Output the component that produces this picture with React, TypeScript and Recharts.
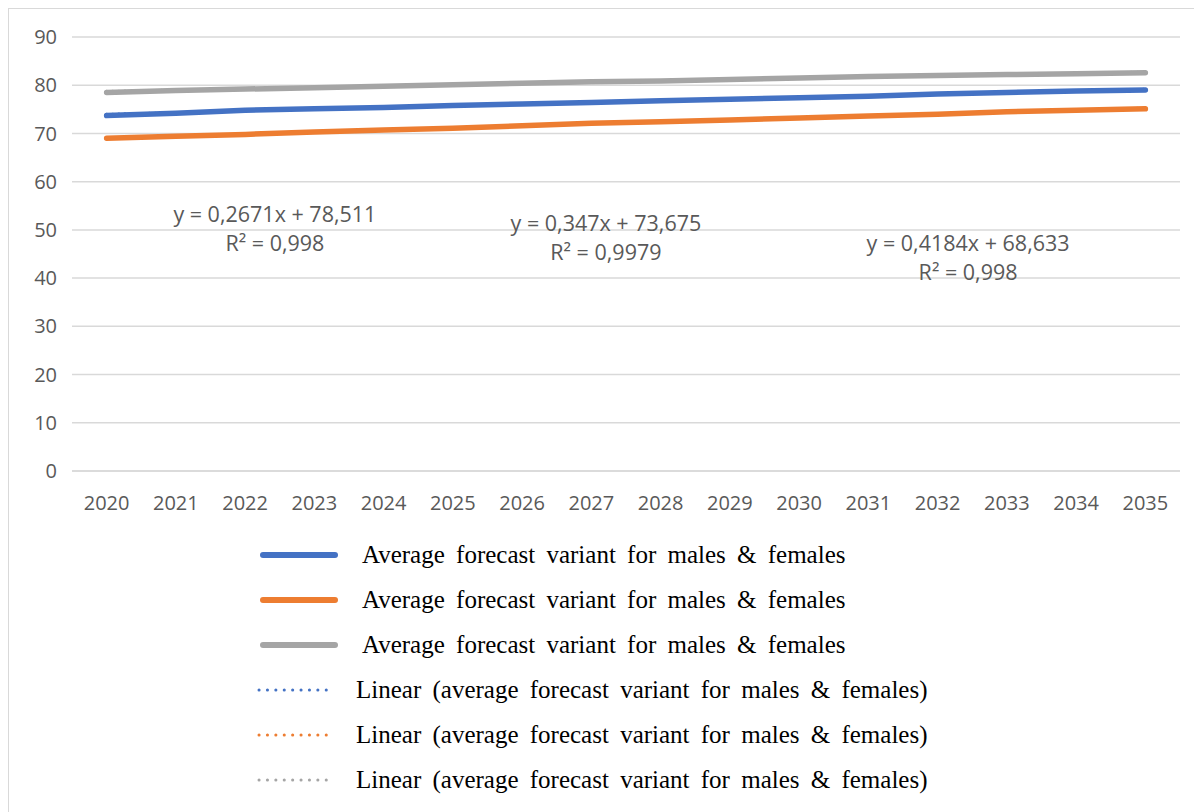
import React from 'react'
import { LineChart, Line, XAxis, YAxis, CartesianGrid, ReferenceLine, ReferenceDot } from 'recharts'

// years on the x axis
const years = [2020, 2021, 2022, 2023, 2024, 2025, 2026, 2027, 2028, 2029, 2030, 2031, 2032, 2033, 2034, 2035]

// values
const blueValues = [73.7, 74.2, 74.8, 75.1, 75.4, 75.8, 76.1, 76.4, 76.8, 77.1, 77.4, 77.7, 78.2, 78.5, 78.8, 79.0]
const orangeValues = [69.0, 69.4, 69.8, 70.3, 70.7, 71.1, 71.6, 72.1, 72.4, 72.8, 73.2, 73.6, 74.0, 74.5, 74.8, 75.1]
const grayValues = [78.5, 78.9, 79.2, 79.5, 79.8, 80.1, 80.4, 80.7, 80.9, 81.2, 81.5, 81.8, 82.0, 82.2, 82.4, 82.6]

const yTicks = [0, 10, 20, 30, 40, 50, 60, 70, 80, 90]

// trend line endpoints (2020 / 2035) for blue, orange, gray
const trendStart = [74.02, 69.05, 78.78]
const trendEnd = [79.23, 75.33, 82.78]

// equation labels: year anchor, value anchor, equation, r²
const eqYears = [2022.43, 2027.21, 2032.44]
const eqValues = [53.3, 51.6, 47.3]
const eqTexts = ['y = 0,2671x + 78,511', 'y = 0,347x + 73,675', 'y = 0,4184x + 68,633']
const r2Texts = ['R² = 0,998', 'R² = 0,9979', 'R² = 0,998']

const legendLabels = [
  'Average forecast variant for males & females',
  'Average forecast variant for males & females',
  'Average forecast variant for males & females',
  'Linear (average forecast variant for males & females)',
  'Linear (average forecast variant for males & females)',
  'Linear (average forecast variant for males & females)',
]

const COLORS = ['#4472C4', '#ED7D31', '#A5A5A5']
const TEXT = '#595959'
const SANS = '"Open Sans", "Liberation Sans", sans-serif'
const SERIF = '"Liberation Serif", "Times New Roman", serif'

const data = years.map((year, i) => ({
  year,
  blue: blueValues[i],
  orange: orangeValues[i],
  gray: grayValues[i],
}))

function EqLabel(props: any, eq: string, r2: string) {
  const vb = props.viewBox || {}
  const cx = (vb.x ?? 0) + (vb.width ?? 0) / 2
  const cy = (vb.y ?? 0) + (vb.height ?? 0) / 2
  return (
    <g>
      <text x={cx} y={cy} textAnchor="middle" dominantBaseline="central" fill={TEXT} fontSize={21.5} fontFamily={SANS}>{eq}</text>
      <text x={cx} y={cy + 29} textAnchor="middle" dominantBaseline="central" fill={TEXT} fontSize={21.5} fontFamily={SANS}>{r2}</text>
    </g>
  )
}

export default function App() {
  return (
    <div style={{ position: 'relative', width: 1210, height: 820, border: '1px solid #D9D9D9', background: '#fff', boxSizing: 'border-box' }}>
      <style>{'body{overflow:hidden}'}</style>
      <LineChart width={1194} height={522} data={data} margin={{ top: 28, right: 23, left: 0, bottom: 0 }}>
        <CartesianGrid vertical={false} stroke="#D9D9D9" strokeWidth={1.5} />
        <XAxis
          dataKey="year"
          type="number"
          domain={[2019.5, 2035.5]}
          ticks={years}
          interval={0}
          axisLine={{ stroke: '#D9D9D9', strokeWidth: 1.5 }}
          tickLine={false}
          tickSize={0}
          tickMargin={25}
          height={60}
          tick={{ fontSize: 20, fill: TEXT, fontFamily: SANS }}
        />
        <YAxis
          domain={[0, 90]}
          ticks={yTicks}
          interval={0}
          axisLine={false}
          tickLine={false}
          tickSize={0}
          tickMargin={15}
          width={63}
          tick={{ fontSize: 20, fill: TEXT, fontFamily: SANS }}
        />
        {['blue', 'orange', 'gray'].map((k, i) => (
          <ReferenceLine
            key={`trend-${k}`}
            segment={[{ x: years[0], y: trendStart[i] }, { x: years[years.length - 1], y: trendEnd[i] }]}
            stroke={COLORS[i]}
            strokeWidth={2.5}
            strokeDasharray="0.1 6"
            strokeLinecap="round"
          />
        ))}
        <Line dataKey="blue" stroke={COLORS[0]} strokeWidth={5.5} strokeLinecap="round" dot={false} isAnimationActive={false} />
        <Line dataKey="orange" stroke={COLORS[1]} strokeWidth={5.5} strokeLinecap="round" dot={false} isAnimationActive={false} />
        <Line dataKey="gray" stroke={COLORS[2]} strokeWidth={5.5} strokeLinecap="round" dot={false} isAnimationActive={false} />
        {eqYears.map((x, i) => (
          <ReferenceDot
            key={`eq-${i}`}
            x={x}
            y={eqValues[i]}
            r={0}
            fill="none"
            stroke="none"
            label={{ content: (p: any) => EqLabel(p, eqTexts[i], r2Texts[i]) }}
          />
        ))}
      </LineChart>
      <div style={{ position: 'absolute', left: 0, top: 523, width: 1194 }}>
        {legendLabels.map((label, i) => {
          const solid = i < 3
          const color = COLORS[i % 3]
          return (
            <div key={i} style={{ height: 45, display: 'flex', alignItems: 'center', position: 'relative' }}>
              <svg width={80} height={10} style={{ position: 'absolute', left: solid ? 250 : 245 }}>
                {solid ? (
                  <line x1={4} y1={5} x2={76} y2={5} stroke={color} strokeWidth={6} strokeLinecap="round" />
                ) : (
                  <line x1={5} y1={5} x2={76} y2={5} stroke={color} strokeWidth={3} strokeDasharray="0.1 8.3" strokeLinecap="round" />
                )}
              </svg>
              <span
                style={{
                  position: 'absolute',
                  left: solid ? 353 : 347,
                  fontFamily: SERIF,
                  fontSize: 25,
                  wordSpacing: 5,
                  color: '#000',
                  whiteSpace: 'nowrap',
                  lineHeight: '45px',
                }}
              >
                {label}
              </span>
            </div>
          )
        })}
      </div>
    </div>
  )
}
